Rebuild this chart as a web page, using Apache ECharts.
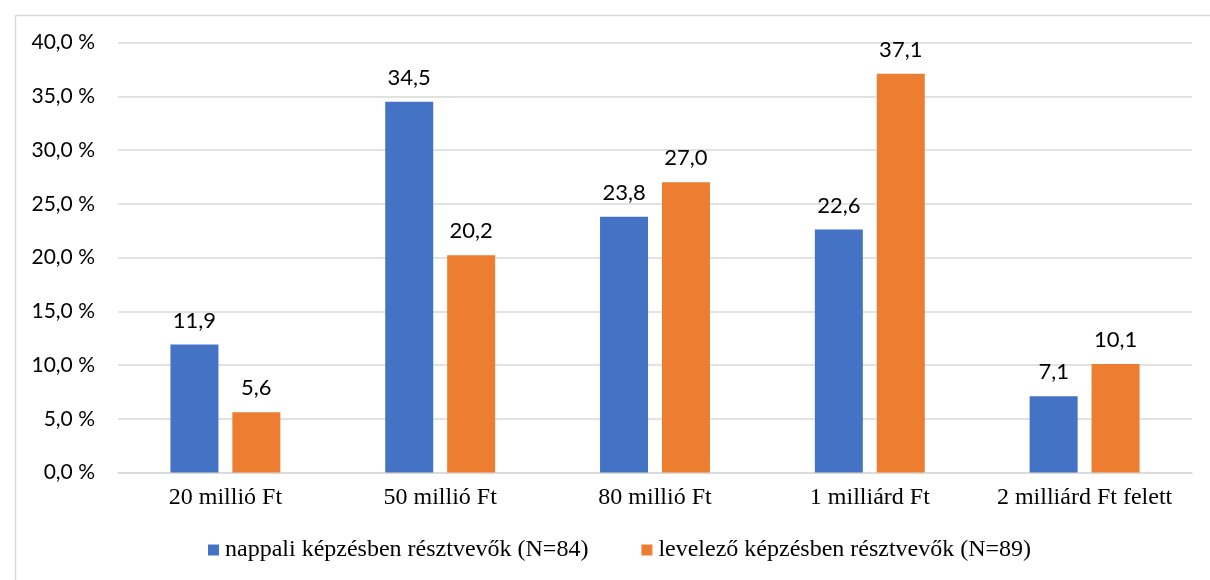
<!DOCTYPE html>
<html>
<head>
<meta charset="utf-8">
<script src="https://cdn.jsdelivr.net/npm/echarts@6/dist/echarts.min.js"></script>
<style>html,body{margin:0;padding:0;background:#fff}#c{width:1210px;height:580px}</style>
</head>
<body>
<div id="c"></div>
<script>
const categories = ['20 millió Ft', '50 millió Ft', '80 millió Ft', '1 milliárd Ft', '2 milliárd Ft felett'];
const seriesNames = ['nappali képzésben résztvevők (N=84)', 'levelező képzésben résztvevők (N=89)'];
const nappali = [11.9, 34.5, 23.8, 22.6, 7.1];
const levelezo = [5.6, 20.2, 27.0, 37.1, 10.1];
const colors = ['#4472C4', '#ED7D31'];

const chart = echarts.init(document.getElementById('c'));
const fmt = v => v.toFixed(1).replace('.', ',');
const sans = 'Lato';
const serif = 'Liberation Serif';
function mk(name, data, color) {
  return {
    name, type: 'bar', data, barWidth: 48, barGap: '29%',
    itemStyle: { color },
    label: { show: true, position: 'top', distance: 13, color: '#000', fontFamily: sans, fontSize: 22,
      formatter: p => fmt(p.value) }
  };
}
chart.setOption({
  animation: false,
  graphic: [{ type: 'rect', left: 13, top: 13, shape: { width: 1220, height: 600 },
    style: { fill: 'none', stroke: '#D9D9D9', lineWidth: 1.5 }, silent: true }],
  grid: { left: 118, right: 18, top: 42.5, bottom: 107.5, containLabel: false },
  legend: { bottom: 13, left: 203, itemWidth: 11, itemHeight: 11, itemGap: 53, icon: 'rect',
    textStyle: { fontFamily: serif, fontSize: 24, color: '#000', padding: [0, 0, 0, 1] }, data: seriesNames },
  xAxis: { type: 'category', data: categories,
    axisLine: { lineStyle: { color: '#D9D9D9', width: 1.5 } }, axisTick: { show: false },
    axisLabel: { fontFamily: serif, fontSize: 24, color: '#000', margin: 13, interval: 0 } },
  yAxis: { type: 'value', min: 0, max: 40, interval: 5,
    axisLine: { show: false }, axisTick: { show: false },
    splitLine: { lineStyle: { color: '#D9D9D9', width: 1.5 } },
    axisLabel: { fontFamily: sans, fontSize: 21, color: '#000', margin: 23,
      formatter: v => fmt(v) + ' %' } },
  series: [mk(seriesNames[0], nappali, colors[0]), mk(seriesNames[1], levelezo, colors[1])]
});
</script>
</body>
</html>
